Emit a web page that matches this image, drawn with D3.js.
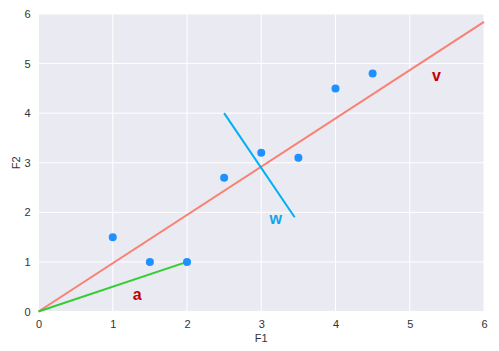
<!DOCTYPE html>
<meta charset="utf-8">
<script src="https://cdn.jsdelivr.net/npm/d3@7"></script>
<html>
<head>
<style>
body { margin: 0; background: #fff; }
text { font-family: "Liberation Sans", Arial, sans-serif; }
</style>
</head>
<body>
<div id="chart"></div>
<script>
// data points
var ptX = [1, 1.5, 2, 2.5, 3, 3.5, 4, 4.5];
var ptY = [1.5, 1, 1, 2.7, 3.2, 3.1, 4.5, 4.8];
// vectors drawn as segments [x0, y0, x1, y1]
var lineV = [0, 0, 6, 5.84];
var lineW = [2.5, 4.0, 3.45, 1.9];
var lineA = [0, 0, 2, 1];
// text labels
var labelNames = ["a", "w", "v"];
var labelX = [1.27, 3.11, 5.3];
var labelY = [0.23, 1.76, 4.64];
var labelColors = ["#c40000", "#0ea5e9", "#c40000"];
var ticks = [0, 1, 2, 3, 4, 5, 6];

var margin = {top: 14, right: 15, bottom: 39.5, left: 38.5},
    width = 499 - margin.left - margin.right,
    height = 351 - margin.top - margin.bottom;

var svg = d3.select("#chart")
  .append("svg")
    .attr("width", 499)
    .attr("height", 351)
  .append("g")
    .attr("transform", "translate(" + margin.left + "," + margin.top + ")");

var x = d3.scaleLinear().domain([0, 6]).range([0, width]);
var y = d3.scaleLinear().domain([0, 6]).range([height, 0]);

svg.append("rect")
  .attr("width", width)
  .attr("height", height)
  .attr("fill", "#eaeaf2");

// grid
svg.selectAll(".gx").data(ticks).enter().append("line")
  .attr("x1", function(d) { return x(d) }).attr("x2", function(d) { return x(d) })
  .attr("y1", 0).attr("y2", height)
  .attr("stroke", "#fff").attr("stroke-width", 1);
svg.selectAll(".gy").data(ticks).enter().append("line")
  .attr("y1", function(d) { return y(d) }).attr("y2", function(d) { return y(d) })
  .attr("x1", 0).attr("x2", width)
  .attr("stroke", "#fff").attr("stroke-width", 1);

// axes (labels only)
var xAxis = svg.append("g")
  .attr("transform", "translate(0," + height + ")")
  .call(d3.axisBottom(x).tickValues(ticks).tickSize(0).tickPadding(9).tickFormat(d3.format("d")));
var yAxis = svg.append("g")
  .call(d3.axisLeft(y).tickValues(ticks).tickSize(0).tickPadding(8).tickFormat(d3.format("d")));
[xAxis, yAxis].forEach(function(g) {
  g.select(".domain").remove();
  g.selectAll("text").attr("fill", "#333").style("font-size", "11px");
});

svg.append("text")
  .attr("x", width / 2).attr("y", height + 30)
  .attr("text-anchor", "middle")
  .attr("fill", "#333").style("font-size", "11px")
  .text("F1");
svg.append("text")
  .attr("transform", "translate(-19," + (height / 2) + ") rotate(-90)")
  .attr("text-anchor", "middle")
  .attr("fill", "#333").style("font-size", "11px")
  .text("F2");

function seg(s, color) {
  svg.append("line")
    .attr("x1", x(s[0])).attr("y1", y(s[1]))
    .attr("x2", x(s[2])).attr("y2", y(s[3]))
    .attr("stroke", color).attr("stroke-width", 2);
}
seg(lineV, "#fa8072");
seg(lineA, "#32cd32");
seg(lineW, "#00b0f0");

svg.selectAll(".pt").data(ptX).enter().append("circle")
  .attr("cx", function(d) { return x(d) })
  .attr("cy", function(d, i) { return y(ptY[i]) })
  .attr("r", 4)
  .attr("fill", "#1e90ff");

svg.selectAll(".lbl").data(labelNames).enter().append("text")
  .attr("x", function(d, i) { return x(labelX[i]) })
  .attr("y", function(d, i) { return y(labelY[i]) })
  .attr("fill", function(d, i) { return labelColors[i] })
  .style("font-size", "16px").style("font-weight", "bold")
  .text(function(d) { return d });
</script>
</body>
</html>
